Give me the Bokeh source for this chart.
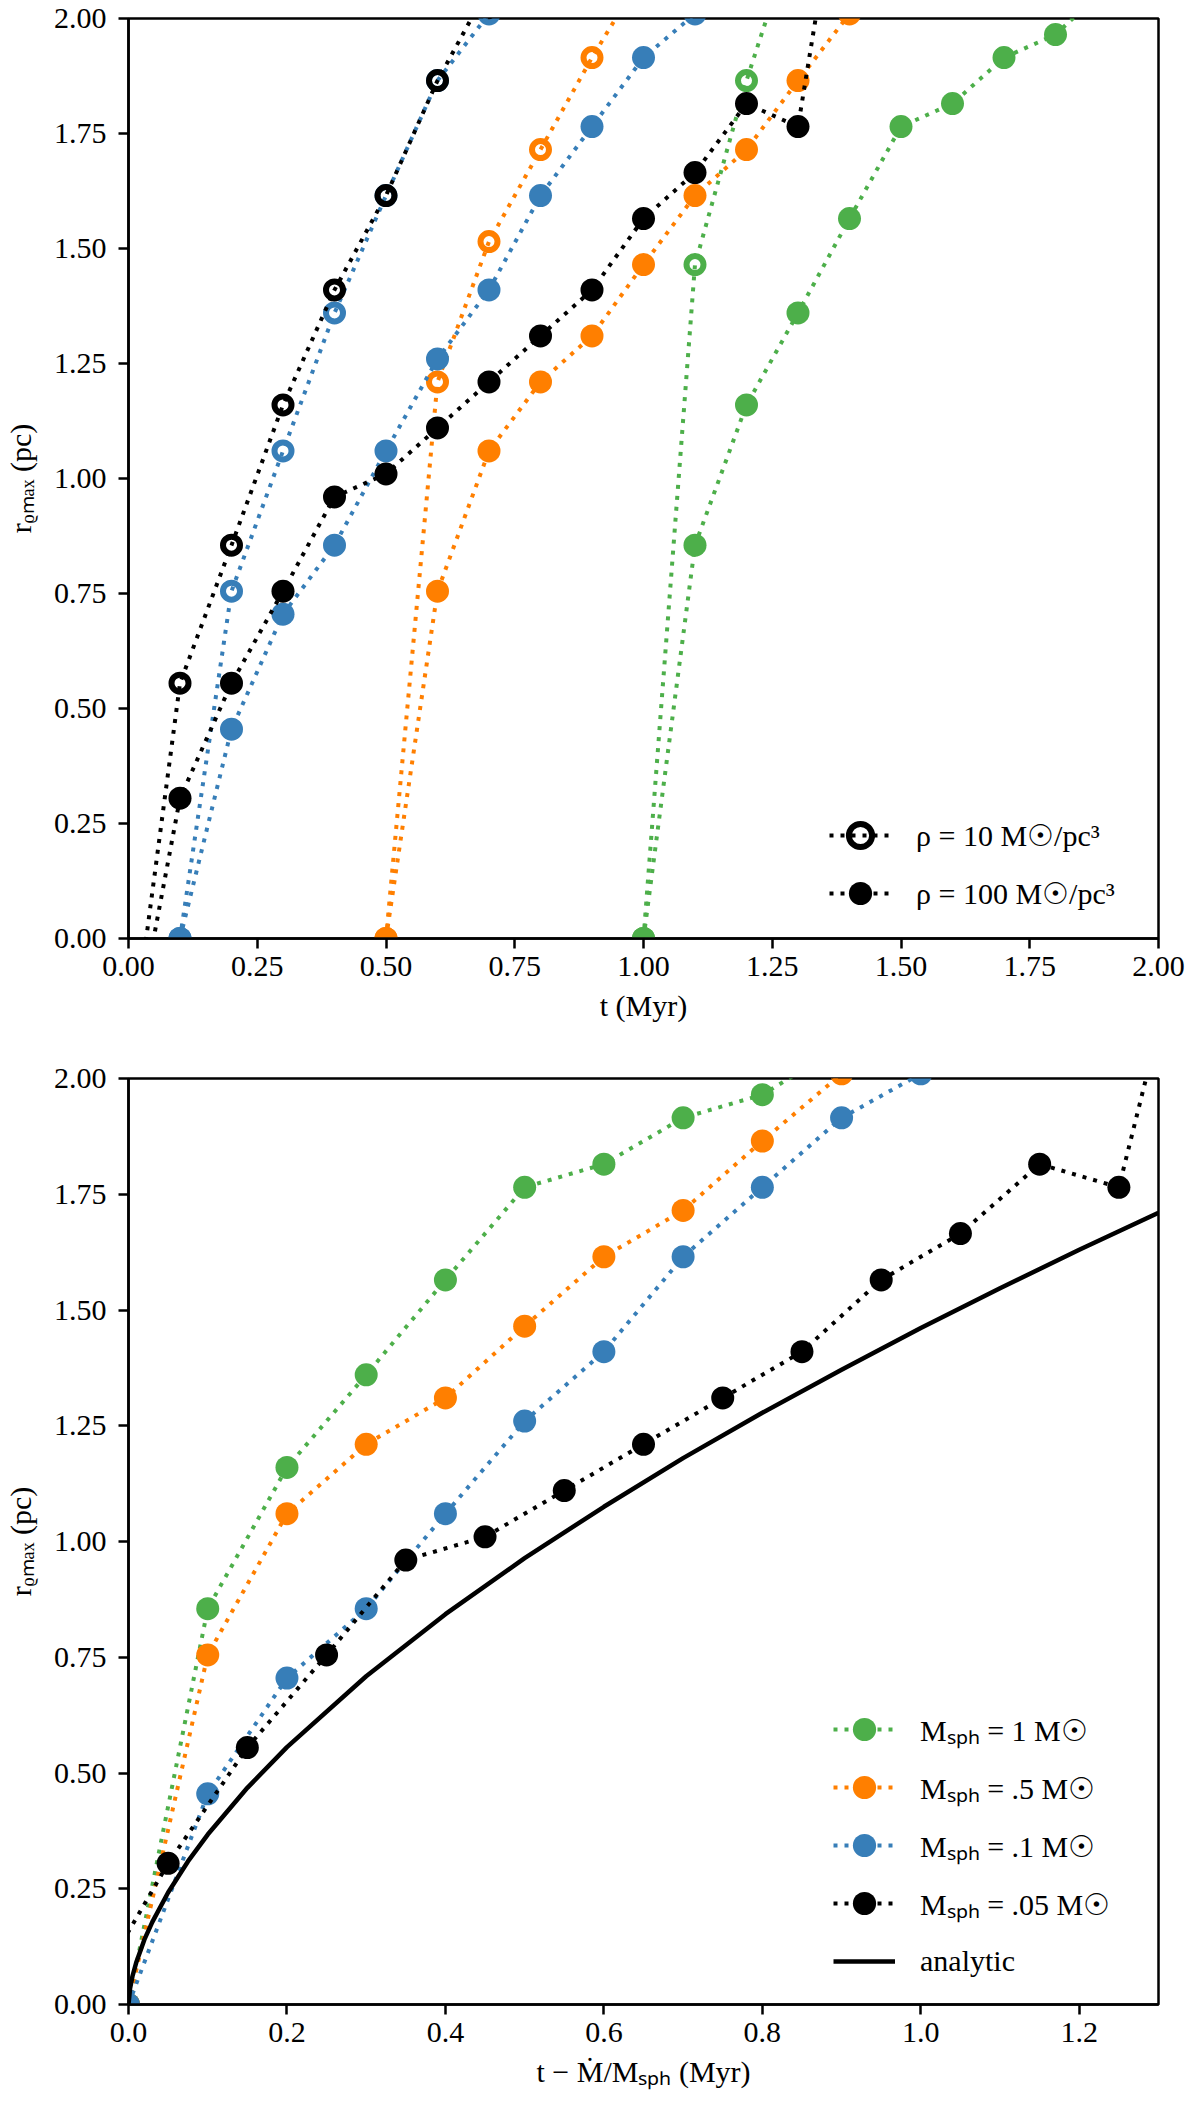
from bokeh.plotting import figure
from bokeh.layouts import column
from bokeh.models import Range1d, FixedTicker, PrintfTickFormatter, Legend, LegendItem
from bokeh.embed import file_html
from bokeh.resources import INLINE

GREEN = "#4daf4a"
ORANGE = "#ff7f00"
BLUE = "#377eb8"
BLACK = "black"
FONT = "Liberation Serif"

# top panel: rho = 10 (hollow) and rho = 100 (filled), t in Myr
t_green_10 = [1.0, 1.1, 1.2, 1.3]
r_green_10 = [0.0, 1.465, 1.865, 2.21]
t_orange_10 = [0.5, 0.6, 0.7, 0.8, 0.9, 1.0]
r_orange_10 = [0.0, 1.21, 1.515, 1.715, 1.915, 2.1]
t_blue_10 = [0.1, 0.2, 0.3, 0.4, 0.5, 0.6, 0.7]
r_blue_10 = [0.0, 0.755, 1.06, 1.36, 1.615, 1.865, 2.01]
t_black_10 = [0.0, 0.1, 0.2, 0.3, 0.4, 0.5, 0.6, 0.7]
r_black_10 = [-0.29, 0.555, 0.855, 1.16, 1.41, 1.615, 1.865, 2.07]

t_green_100 = [1.0, 1.1, 1.2, 1.3, 1.4, 1.5, 1.6, 1.7, 1.8, 1.9]
r_green_100 = [0.0, 0.855, 1.16, 1.36, 1.565, 1.765, 1.815, 1.915, 1.965, 2.07]
t_orange_100 = [0.5, 0.6, 0.7, 0.8, 0.9, 1.0, 1.1, 1.2, 1.3, 1.4]
r_orange_100 = [0.0, 0.755, 1.06, 1.21, 1.31, 1.465, 1.615, 1.715, 1.865, 2.01]
t_blue_100 = [0.1, 0.2, 0.3, 0.4, 0.5, 0.6, 0.7, 0.8, 0.9, 1.0, 1.1]
r_blue_100 = [0.0, 0.455, 0.705, 0.855, 1.06, 1.26, 1.41, 1.615, 1.765, 1.915, 2.01]
t_black_100 = [0.0, 0.1, 0.2, 0.3, 0.4, 0.5, 0.6, 0.7, 0.8, 0.9, 1.0, 1.1, 1.2, 1.3, 1.4]
r_black_100 = [-0.29, 0.305, 0.555, 0.755, 0.96, 1.01, 1.11, 1.21, 1.31, 1.41, 1.565,
               1.665, 1.815, 1.765, 2.45]

# bottom panel: t - Mdot/M_SPH
s_green = [0.0, 0.1, 0.2, 0.3, 0.4, 0.5, 0.6, 0.7, 0.8, 0.9]
r_green = [0.0, 0.855, 1.16, 1.36, 1.565, 1.765, 1.815, 1.915, 1.965, 2.07]
s_orange = [0.0, 0.1, 0.2, 0.3, 0.4, 0.5, 0.6, 0.7, 0.8, 0.9]
r_orange = [0.0, 0.755, 1.06, 1.21, 1.31, 1.465, 1.615, 1.715, 1.865, 2.01]
s_blue = [0.0, 0.1, 0.2, 0.3, 0.4, 0.5, 0.6, 0.7, 0.8, 0.9, 1.0]
r_blue = [0.0, 0.455, 0.705, 0.855, 1.06, 1.26, 1.41, 1.615, 1.765, 1.915, 2.01]
s_black = [-0.05, 0.05, 0.15, 0.25, 0.35, 0.45, 0.55, 0.65, 0.75, 0.85, 0.95, 1.05,
           1.15, 1.25, 1.35]
r_black = [0.01, 0.305, 0.555, 0.755, 0.96, 1.01, 1.11, 1.21, 1.31, 1.41, 1.565,
           1.665, 1.815, 1.765, 2.45]

s_analytic = [0.0, 0.002, 0.005, 0.01, 0.02, 0.03, 0.05, 0.075, 0.1, 0.15, 0.2, 0.3,
              0.4, 0.5, 0.6, 0.7, 0.8, 0.9, 1.0, 1.1, 1.2, 1.3]
r_analytic = [0.0, 0.035, 0.061, 0.092, 0.14, 0.178, 0.242, 0.309, 0.367, 0.468, 0.556,
              0.709, 0.843, 0.964, 1.075, 1.18, 1.278, 1.371, 1.461, 1.547, 1.63, 1.71]

r_ticks = [0.0, 0.25, 0.5, 0.75, 1.0, 1.25, 1.5, 1.75, 2.0]
t_ticks = [0.0, 0.25, 0.5, 0.75, 1.0, 1.25, 1.5, 1.75, 2.0]
s_ticks = [0.0, 0.2, 0.4, 0.6, 0.8, 1.0, 1.2]


def make_panel(x_end, xticks, xfmt, xlabel, border_top, frame_height):
    p = figure(frame_width=1030, frame_height=frame_height,
               x_range=Range1d(0, x_end), y_range=Range1d(0, 2),
               toolbar_location=None, output_backend="svg",
               min_border_left=124, min_border_right=30,
               min_border_top=border_top, min_border_bottom=100)
    p.xgrid.visible = False
    p.ygrid.visible = False
    p.outline_line_color = "black"
    p.outline_line_width = 2.5
    p.outline_line_alpha = 1

    p.xaxis.ticker = FixedTicker(ticks=xticks)
    p.xaxis.formatter = PrintfTickFormatter(format=xfmt)
    p.yaxis.ticker = FixedTicker(ticks=r_ticks)
    p.yaxis.formatter = PrintfTickFormatter(format="%.2f")
    p.xaxis.axis_label = xlabel
    p.yaxis.axis_label = "rᵨₘₐₓ (pc)"

    p.axis.axis_line_width = 2.5
    p.axis.axis_line_color = "black"
    p.axis.major_tick_line_width = 2.5
    p.axis.major_tick_line_color = "black"
    p.axis.major_tick_out = 10
    p.axis.major_tick_in = 0
    p.axis.minor_tick_line_color = None
    p.axis.major_label_text_font = FONT
    p.axis.major_label_text_font_size = "30px"
    p.axis.major_label_text_color = "black"
    p.axis.axis_label_text_font = FONT
    p.axis.axis_label_text_font_size = "30px"
    p.axis.axis_label_text_font_style = "normal"
    p.axis.axis_label_text_color = "black"
    p.xaxis.major_label_standoff = 8
    p.yaxis.major_label_standoff = 12
    p.xaxis.axis_label_standoff = 10
    p.yaxis.axis_label_standoff = 14
    return p


def series(p, x, y, color, hollow=False):
    line = p.line(x, y, line_color=color, line_width=4, line_dash="4 7")
    if hollow:
        dots = p.scatter(x, y, size=17, fill_alpha=0, line_color=color, line_width=6)
    else:
        dots = p.scatter(x, y, size=23, fill_color=color, line_color=None)
    return [line, dots]


def legend_for(p, items, loc, spacing):
    legend = Legend(items=[LegendItem(label=lab, renderers=rs) for lab, rs in items],
                    location=loc, border_line_color=None, background_fill_alpha=0,
                    padding=0, margin=0, glyph_width=62, glyph_height=58,
                    label_height=58, spacing=spacing, label_standoff=25,
                    label_text_font=FONT, label_text_font_size="30px",
                    label_text_color="black")
    p.add_layout(legend)


top = make_panel(2, t_ticks, "%.2f", "t (Myr)", 18, 920)
series(top, t_green_10, r_green_10, GREEN, hollow=True)
series(top, t_green_100, r_green_100, GREEN)
series(top, t_orange_10, r_orange_10, ORANGE, hollow=True)
series(top, t_orange_100, r_orange_100, ORANGE)
series(top, t_blue_10, r_blue_10, BLUE, hollow=True)
series(top, t_blue_100, r_blue_100, BLUE)
rho10 = series(top, t_black_10, r_black_10, BLACK, hollow=True)
rho100 = series(top, t_black_100, r_black_100, BLACK)
legend_for(top, [("ρ = 10 M☉/pc³", rho10), ("ρ = 100 M☉/pc³", rho100)], (701, 16), -11)

bottom = make_panel(1.3, s_ticks, "%.1f", "t − Ṁ/Mₛₚₕ (Myr)", 40, 926)
g = series(bottom, s_green, r_green, GREEN)
o = series(bottom, s_orange, r_orange, ORANGE)
b = series(bottom, s_blue, r_blue, BLUE)
k = series(bottom, s_black, r_black, BLACK)
an = bottom.line(s_analytic, r_analytic, line_color="black", line_width=4.5)
legend_for(bottom, [("Mₛₚₕ = 1 M☉", g), ("Mₛₚₕ = .5 M☉", o), ("Mₛₚₕ = .1 M☉", b),
                    ("Mₛₚₕ = .05 M☉", k), ("analytic", [an])], (705, 14), -14)

page = column(top, bottom)
open("out.html", "w").write(file_html(page, INLINE))
